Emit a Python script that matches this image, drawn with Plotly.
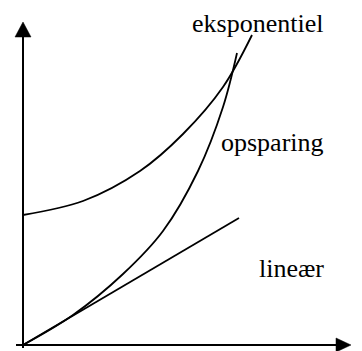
import plotly.graph_objects as go

# Data (pixel-like units: x to the right from origin, y upward from origin)
eksp_x = [0, 60, 117, 160, 200, 229]
eksp_y = [130, 144, 174, 211, 258, 310]

ops_x = [0, 50, 100, 140, 175, 200, 214]
ops_y = [0, 30, 71, 114, 174, 238, 292]

lin_x = [0, 216]
lin_y = [0, 127]

labels = ["eksponentiel", "opsparing", "lineær"]
label_x = [234.5, 249, 268.5]
label_y = [322, 203, 77]

line_style = dict(color="black", width=1.8, shape="spline", smoothing=1.0)

fig = go.Figure()
fig.add_trace(go.Scatter(x=eksp_x, y=eksp_y, mode="lines", line=line_style, hoverinfo="skip"))
fig.add_trace(go.Scatter(x=ops_x, y=ops_y, mode="lines", line=line_style, hoverinfo="skip"))
fig.add_trace(go.Scatter(x=lin_x, y=lin_y, mode="lines", line=dict(color="black", width=1.8), hoverinfo="skip"))

# axes with arrowheads
axis_w = 2
fig.add_shape(type="line", x0=0, y0=-3, x1=0, y1=309, line=dict(color="black", width=axis_w))
fig.add_shape(type="line", x0=-7, y0=0, x1=314, y1=0, line=dict(color="black", width=axis_w))
fig.add_shape(type="path", path="M -8 308 L 8 308 L 0 323 Z", fillcolor="black", line=dict(color="black", width=0.5))
fig.add_shape(type="path", path="M 313 -7 L 313 7 L 328 0 Z", fillcolor="black", line=dict(color="black", width=0.5))

for t, x, y in zip(labels, label_x, label_y):
    fig.add_annotation(x=x, y=y, text=t, showarrow=False, xanchor="center", yanchor="middle",
                       font=dict(family="Liberation Serif, Times New Roman, serif", size=26, color="black"))

fig.update_layout(
    width=362, height=351,
    margin=dict(l=0, r=0, t=0, b=0),
    paper_bgcolor="white", plot_bgcolor="white",
    showlegend=False,
    xaxis=dict(range=[-15, 347], visible=False, fixedrange=True),
    yaxis=dict(range=[-14, 337], visible=False, fixedrange=True),
)
fig.write_html("out.html")
